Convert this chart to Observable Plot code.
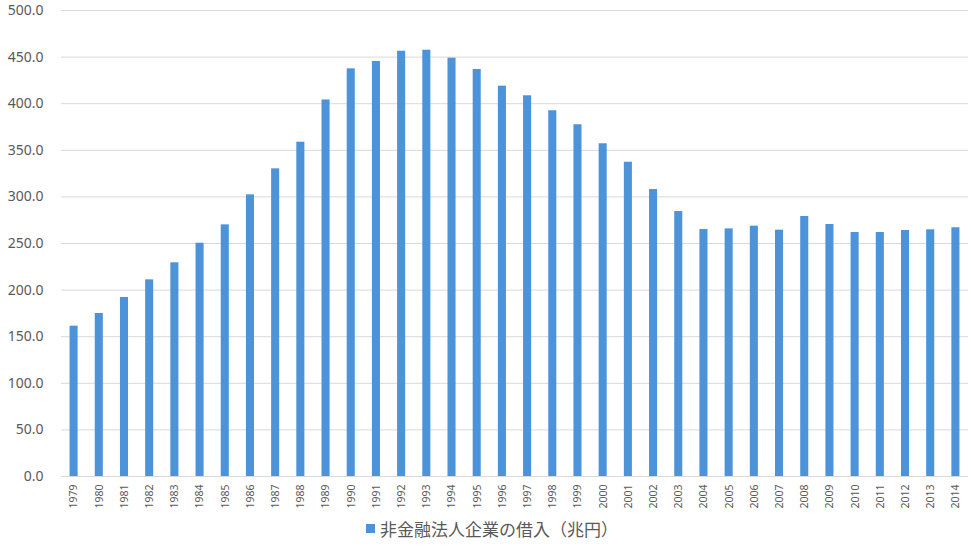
<!DOCTYPE html>
<html><head><meta charset="utf-8">
<script src="https://cdn.jsdelivr.net/npm/d3@7"></script>
<script src="https://cdn.jsdelivr.net/npm/@observablehq/plot@0.6"></script>
<style>
body{margin:0;background:#fff;font-family:"Noto Sans","Noto Sans CJK JP",sans-serif;}
#wrap{position:relative;width:971px;height:555px;}
#legend{position:absolute;left:366px;top:516px;font-family:"Noto Sans CJK JP",sans-serif;font-size:17px;color:#595959;display:flex;align-items:center;}
#legend span.sw{display:inline-block;width:9px;height:9px;background:#4d93d9;margin-right:5px;}
</style></head>
<body><div id="wrap"><div id="chart"></div><div id="legend"><span class="sw"></span>非金融法人企業の借入（兆円）</div></div>
<script>
const years = ["1979","1980","1981","1982","1983","1984","1985","1986","1987","1988","1989","1990","1991","1992","1993","1994","1995","1996","1997","1998","1999","2000","2001","2002","2003","2004","2005","2006","2007","2008","2009","2010","2011","2012","2013","2014"];
const borrowing = [161.3,174.9,192.1,211.0,229.3,250.3,270.0,302.2,330.1,358.7,404.0,437.4,445.3,456.3,457.4,448.8,436.7,418.8,408.5,392.4,377.4,357.0,337.2,307.9,284.3,265.0,265.7,268.6,264.3,279.0,270.4,261.8,261.8,263.9,264.7,266.9];
const yTicks = [0,50,100,150,200,250,300,350,400,450,500];
const data = years.map((y,i)=>({year:y, value:borrowing[i]}));
const chart = Plot.plot({
  width:971, height:515,
  marginLeft:61, marginRight:3, marginTop:10, marginBottom:39,
  style:{fontFamily:"'Noto Sans',sans-serif", color:"#595959", background:"#fff"},
  x:{domain:years, paddingInner:0.68, paddingOuter:0.34, align:0.5, round:false, label:null},
  y:{domain:[0,500], label:null},
  marks:[
    Plot.gridY(yTicks,{stroke:"#d9d9d9", strokeOpacity:1, strokeWidth:1}),
    Plot.barY(data,{x:"year", y:"value", fill:"#4d93d9"}),
    Plot.axisY(yTicks,{tickSize:0, tickPadding:18, tickFormat:d=>d.toFixed(1), fontSize:14, fill:"#595959"}),
    Plot.axisX({tickSize:0, tickPadding:8, tickRotate:-90, fontSize:10.5, fill:"#595959"})
  ]
});
document.getElementById("chart").appendChild(chart);
</script></body></html>
